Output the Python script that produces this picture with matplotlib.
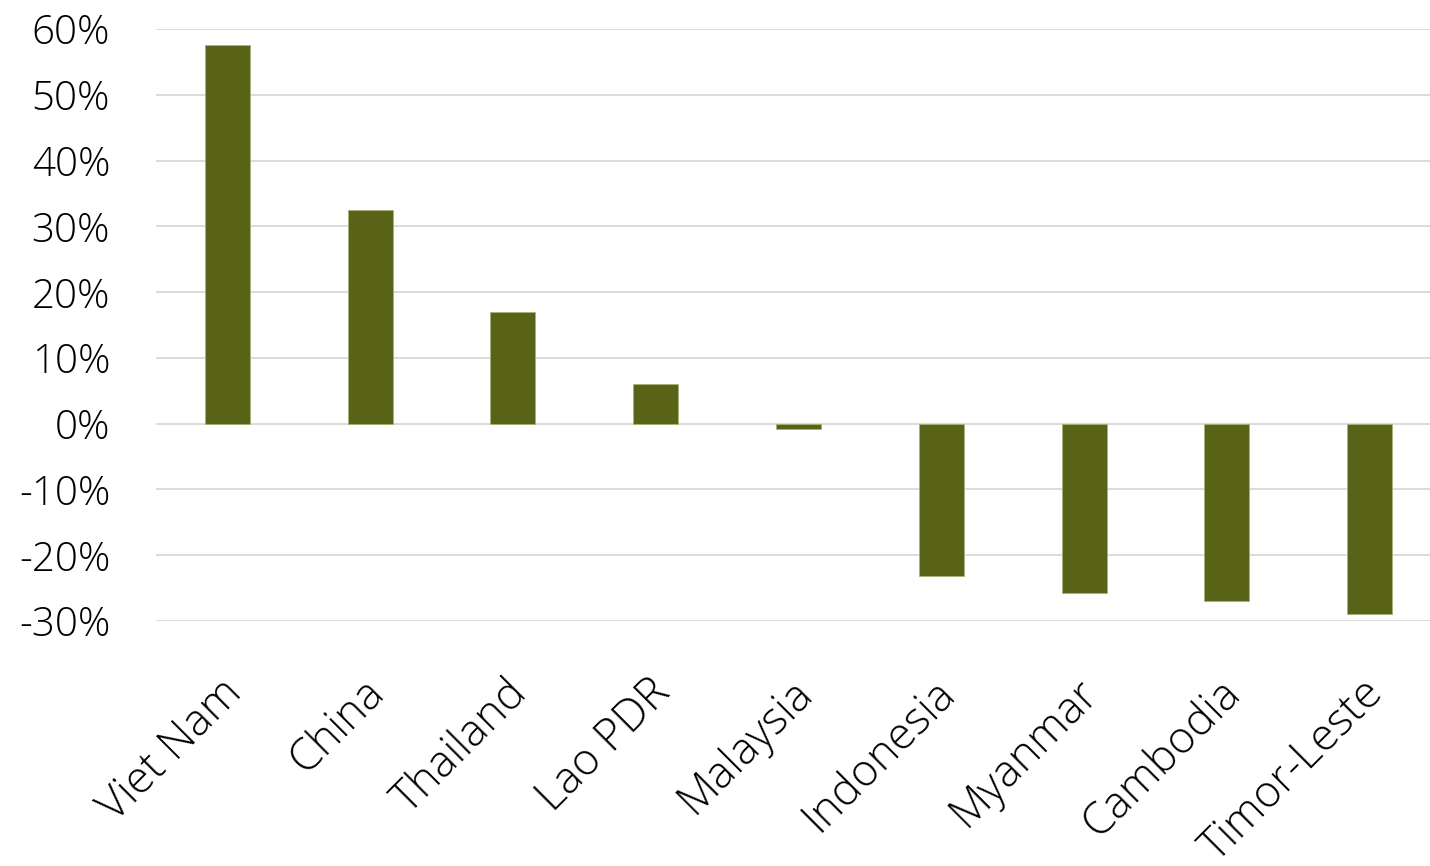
import matplotlib
matplotlib.use("Agg")
import matplotlib.pyplot as plt
from matplotlib.ticker import FuncFormatter, MultipleLocator
from matplotlib.transforms import ScaledTranslation

countries = ["Viet Nam", "China", "Thailand", "Lao PDR", "Malaysia",
             "Indonesia", "Myanmar", "Cambodia", "Timor-Leste"]
values = [57.6, 32.5, 17.0, 6.1, -0.8, -23.1, -25.8, -26.9, -28.9]

plt.rcParams['font.family'] = ['Open Sans', 'DejaVu Sans']

W, H = 1430, 866
fig = plt.figure(figsize=(W / 100, H / 100), dpi=100)
left, right = 156 / W, 1441 / W
top, bottom = 1 - 29 / H, 1 - 621 / H
ax = fig.add_axes([left, bottom, right - left, top - bottom])

x = list(range(len(countries)))
ax.bar(x, values, width=0.315, color="#586317", edgecolor="#a9b07a",
       linewidth=0.6, zorder=3)

ax.set_xlim(-0.5, len(countries) - 0.5)
ax.set_ylim(-30, 60)
ax.yaxis.set_major_locator(MultipleLocator(10))
ax.yaxis.set_major_formatter(FuncFormatter(lambda v, p: f"{int(round(v))}%"))
ax.grid(axis="y", color="#d9d9d9", linewidth=1.3, zorder=0)
ax.set_axisbelow(True)
for s in ax.spines.values():
    s.set_visible(False)
ax.tick_params(axis="both", length=0, colors="#000000")
ax.tick_params(axis="y", pad=33, labelsize=29)
for lbl in ax.get_yticklabels():
    lbl.set_fontweight("light")
ax.set_xticks(x)
ax.set_xticklabels(countries, rotation=45, ha="right", rotation_mode="anchor",
                   fontsize=32, fontweight="light")
ax.tick_params(axis="x", pad=36)
offset = ScaledTranslation(-8 / 100, 0, fig.dpi_scale_trans)
for lbl in ax.get_xticklabels():
    lbl.set_transform(lbl.get_transform() + offset)

fig.savefig("out.png", dpi=100, facecolor="white")
